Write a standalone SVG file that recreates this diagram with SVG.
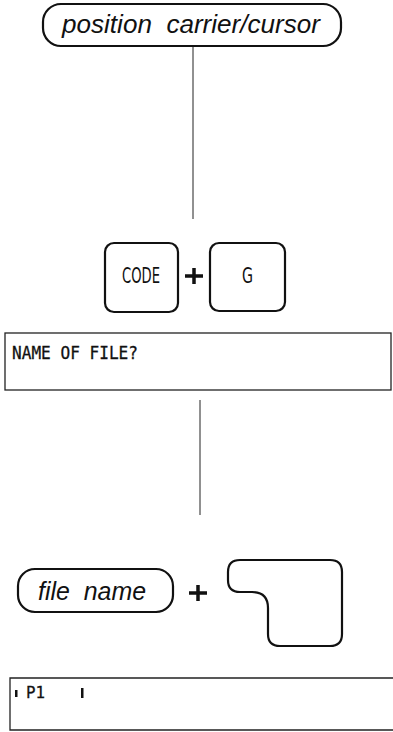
<svg xmlns="http://www.w3.org/2000/svg" width="393" height="732" viewBox="0 0 393 732">
<style>
.sh{fill:none;stroke:#111;stroke-width:2.2}
.ln{fill:none;stroke:#222;stroke-width:1}
.it{font-family:"Liberation Sans",Arial,sans-serif;font-style:italic;fill:#111}
.mono{font-family:"DejaVu Sans Mono","Liberation Mono",monospace;fill:#111;stroke:#111;stroke-width:0.3}
.key{font-family:"DejaVu Sans Condensed","Liberation Sans Narrow",sans-serif;font-size:21px;fill:#111}
.plus{stroke:#111;stroke-width:3.5;fill:none}
</style>
<rect width="393" height="732" fill="#fff"/>
<g id="connectors">
<line class="ln" x1="193" y1="47" x2="193" y2="219"/>
<line class="ln" x1="200" y1="400" x2="200" y2="515"/>
</g>
<g id="position">
<rect class="sh" x="43" y="4" width="298" height="42" rx="18"/>
<text class="it" x="62" y="33" font-size="26" textLength="258" lengthAdjust="spacingAndGlyphs" xml:space="preserve">position  carrier/cursor</text>
</g>
<g id="code">
<rect class="sh" x="105" y="243" width="73" height="69" rx="9"/>
<text class="key" x="122" y="283" textLength="38" lengthAdjust="spacingAndGlyphs">CODE</text>
</g>
<g id="plus1">
<path class="plus" d="M185 276H203M194 268V284"/>
</g>
<g id="g">
<rect class="sh" x="210" y="243" width="75" height="68" rx="9"/>
<text class="key" x="242" y="283" textLength="11" lengthAdjust="spacingAndGlyphs">G</text>
</g>
<g id="namefile">
<rect x="5" y="333" width="386" height="57" fill="none" stroke="#222" stroke-width="1.3"/>
<text class="mono" x="12" y="359" font-size="17.5" textLength="126" lengthAdjust="spacingAndGlyphs">NAME OF FILE?</text>
</g>
<g id="filename">
<rect class="sh" x="18" y="569" width="155" height="43" rx="17"/>
<text class="it" x="38" y="600" font-size="25" textLength="108" lengthAdjust="spacingAndGlyphs" xml:space="preserve">file  name</text>
</g>
<g id="plus2">
<path class="plus" d="M189 593H207M198 585V601"/>
</g>
<g id="returnkey">
<path class="sh" d="M240 560H330Q342 560 342 572V634Q342 646 330 646H280Q268 646 268 634V608Q268 592 252 592H240Q228 592 228 580V572Q228 560 240 560Z"/>
</g>
<g id="p1">
<path d="M393 678H10V730H393" fill="none" stroke="#222" stroke-width="1.3"/>
<rect x="15" y="690" width="2.5" height="7" fill="#111"/>
<text class="mono" x="26" y="698" font-size="16.5" textLength="19" lengthAdjust="spacingAndGlyphs">P1</text>
<rect x="81" y="688" width="2.5" height="10" fill="#111"/>
</g>
</svg>
